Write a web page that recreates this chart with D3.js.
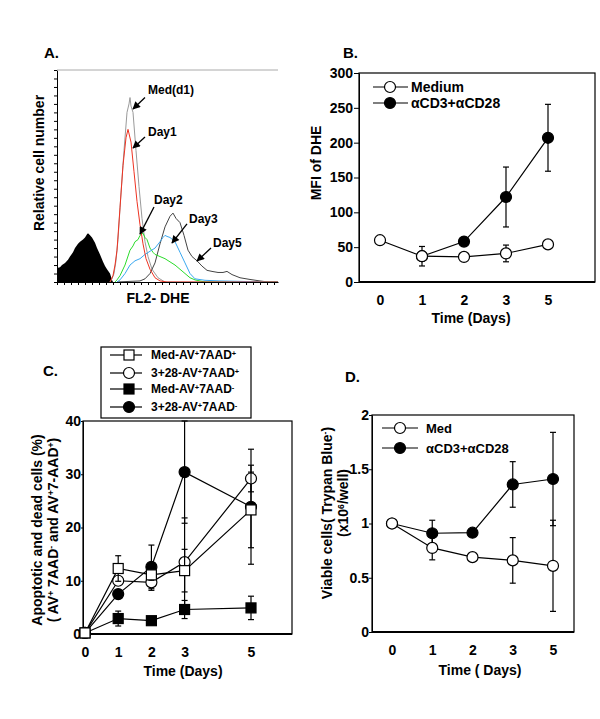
<!DOCTYPE html>
<html>
<head>
<meta charset="utf-8">
<script src="https://cdn.jsdelivr.net/npm/d3@7"></script>
<style>
  body { margin: 0; background: #fff; }
  svg { display: block; font-family: "Liberation Sans", Arial, Helvetica, sans-serif; font-weight: bold; }
  .axis path, .axis line { stroke: #000; }
  .axis text { font-family: "Liberation Sans", Arial, sans-serif; font-weight: bold; fill: #000; }
</style>
</head>
<body>
<div id="fig"></div>
<script>
// ---------- data ----------
// A. FL2-DHE histograms, [channel, relative cell number]
const histUnstained = [[0,6.6],[3,7],[5,8],[8,9],[11,10.5],[13,12],[16,14],[18,16],[21,18],[23,19],[26,20],[28,21],[30,22.5],[31,23],[33,22],[35,21],[38,18.5],[40,16],[43,13],[46,9.5],[48,7.5],[50,6],[53,4],[55,1],[56,0]];
const histMedD1 = [[53,0],[55,1.5],[57,4],[59,10],[61,20],[64,42],[67,62],[70,80],[72,84],[73,87],[74,83],[76,80],[79,62],[82,45],[85,30],[88,19],[91,12],[95,6],[101,2],[108,0],[221,0]];
const histDay1 = [[53,0],[56,3],[58,8],[60,15],[63,35],[66,55],[69,68],[71,72],[74,66],[77,52],[80,38],[83,27],[86,18],[89,11],[93,6],[98,2],[103,0.5],[110,0],[221,0]];
const histDay2 = [[58,0],[60,1],[63,3],[68,8],[73,15],[76,17],[78,19],[81,20],[83,22],[86,23],[88,21],[90,20],[93,16],[96,14],[98,13],[103,12],[108,11],[113,9.5],[118,8],[123,6],[128,4],[133,2],[138,1],[148,0],[221,0]];
const histDay3 = [[60,0],[63,1],[68,4],[73,8],[78,10],[83,11],[88,13],[93,14.5],[98,16],[103,19],[106,21],[108,22],[110,21.5],[113,21],[118,19],[123,14],[128,9],[133,4],[138,1.5],[148,0.8],[163,0.5],[183,0.3],[211,0],[221,0]];
const histDay5 = [[60,0],[73,0.3],[83,0.5],[88,1.5],[93,4],[98,9],[103,18],[108,26],[113,31],[116,32.5],[119,30],[123,28],[127,22],[131,15],[135,12],[140,10],[145,7.5],[150,5.5],[155,5],[161,4.5],[166,4.5],[170,5],[175,3.5],[183,2],[193,1.2],[203,0.5],[211,0],[221,0]];
const histLabels = ['Med(d1)', 'Day1', 'Day2', 'Day3', 'Day5'];
// label anchor, arrow tail, arrow tip (channel, count)
const histNotes = [
  [91, 90.6, 88, 87, 76, 81.6],
  [91, 70.8, 88, 68.4, 76, 63.2],
  [97, 38.7, 97, 35.4, 83, 22.6],
  [132, 29.7, 130, 27.4, 115, 18.4],
  [156, 18.4, 154, 16, 140, 9.9]
];

// B. MFI of DHE
const daysB = ['0', '1', '2', '3', '5'];
const mfiMedium = [60, 37, 36, 41, 54];
const mfiMediumErr = [0, 14, 0, 12, 0];
const mfiCD3 = [null, 37, 58, 122, 207];
const mfiCD3Err = [0, 0, 0, 43, 48];

// C. apoptotic and dead cells (%)
const daysC = [0, 1, 2, 3, 5];
const medDead = [0.2, 12.3, 11.1, 11.9, 23.3];
const medDeadErr = [0, 2.4, 1, 4, 7.1];
const cd3Dead = [0.2, 10.0, 9.7, 13.5, 29.2];
const cd3DeadErr = [0, 0.8, 1.5, 8.3, 2.5];
const medApo = [0.2, 2.9, 2.5, 4.6, 4.9];
const medApoErr = [0, 1.4, 0.3, 1.7, 2.2];
const cd3Apo = [0.2, 7.5, 12.6, 30.4, 23.9];
const cd3ApoErr = [0, 0.8, 4.1, 9.6, 10.8];
const legendC = ['Med-AV{+}7AAD{+}', '3+28-AV{+}7AAD{+}', 'Med-AV{+}7AAD{-}', '3+28-AV{+}7AAD{-}'];

// D. viable cells (x10^6/well)
const daysD = ['0', '1', '2', '3', '5'];
const viableMed = [1.0, 0.775, 0.69, 0.66, 0.61];
const viableMedErr = [0, 0.11, 0, 0.21, 0.42];
const viableCD3 = [1.0, 0.91, 0.915, 1.36, 1.41];
const viableCD3Err = [0, 0.12, 0, 0.21, 0.43];

// ---------- helpers ----------
const svg = d3.select('#fig').append('svg')
  .attr('width', 600).attr('height', 719);
svg.append('rect').attr('width', 600).attr('height', 719).attr('fill', '#fff');

svg.append('defs').append('marker')
  .attr('id', 'arrow')
  .attr('viewBox', '0 0 10 10')
  .attr('refX', 9).attr('refY', 5)
  .attr('markerWidth', 7).attr('markerHeight', 6)
  .attr('orient', 'auto')
  .append('path').attr('d', 'M0,0L10,5L0,10z').attr('fill', '#000');

// text with {+} / {-} superscripts
function richText(sel, str) {
  const parts = str.split(/(\{[+\-6]\})/);
  let up = false;
  parts.forEach(p => {
    if (!p) return;
    const m = p.match(/^\{(.)\}$/);
    if (m) {
      sel.append('tspan').attr('dy', '-0.45em').attr('font-size', '0.62em').text(m[1]);
      up = true;
    } else {
      const t = sel.append('tspan').text(p);
      if (up) { t.attr('dy', '0.28em'); up = false; }
    }
  });
}

function label(g, x, y, str, size, rotate) {
  const t = g.append('text')
    .attr('text-anchor', 'middle')
    .attr('font-size', size)
    .attr('transform', 'translate(' + x + ',' + y + ')' + (rotate ? ' rotate(-90)' : ''));
  richText(t, str);
  return t;
}

function marker(g, shape, filled, x, y) {
  if (shape === 'square') {
    g.append('rect').attr('x', x - 5).attr('y', y - 5).attr('width', 10).attr('height', 10)
      .attr('fill', filled ? '#000' : '#fff').attr('stroke', '#000').attr('stroke-width', 1.2);
  } else {
    g.append('circle').attr('cx', x).attr('cy', y).attr('r', 5.5)
      .attr('fill', filled ? '#000' : '#fff').attr('stroke', '#000').attr('stroke-width', 1.2);
  }
}

// one series: line, error bars, markers
function series(g, xs, ys, vals, errs, shape, filled) {
  const pts = vals.map((v, i) => ({ x: xs(i), v: v, e: errs[i] })).filter(d => d.v != null);
  g.append('path').datum(pts)
    .attr('d', d3.line().x(d => d.x).y(d => ys(d.v)))
    .attr('fill', 'none').attr('stroke', '#000').attr('stroke-width', 1.2);
  pts.filter(d => d.e > 0).forEach(d => {
    g.append('line').attr('x1', d.x).attr('x2', d.x)
      .attr('y1', ys(d.v - d.e)).attr('y2', ys(d.v + d.e))
      .attr('stroke', '#000').attr('stroke-width', 1.2);
    [d.v - d.e, d.v + d.e].forEach(c => {
      g.append('line').attr('x1', d.x - 3).attr('x2', d.x + 3)
        .attr('y1', ys(c)).attr('y2', ys(c))
        .attr('stroke', '#000').attr('stroke-width', 1.2);
    });
  });
  pts.forEach(d => marker(g, shape, filled, d.x, ys(d.v)));
}

// box round the plot, thick base line
function frame(g, x0, x1, y0, y1, thickBase) {
  g.append('rect').attr('x', x0).attr('y', y0).attr('width', x1 - x0).attr('height', y1 - y0)
    .attr('fill', 'none').attr('stroke', '#000').attr('stroke-width', 1.2);
  if (thickBase) {
    g.append('line').attr('x1', x0).attr('x2', x1).attr('y1', y1).attr('y2', y1)
      .attr('stroke', '#000').attr('stroke-width', 2.2);
  }
}

function xAxis(g, scale, y, vals) {
  const ax = d3.axisBottom(scale).tickSize(0).tickPadding(13);
  if (vals) ax.tickValues(vals).tickFormat(d3.format('d'));
  g.append('g').attr('class', 'axis').attr('transform', 'translate(0,' + y + ')')
    .call(ax)
    .call(a => a.select('.domain').remove())
    .call(a => a.selectAll('text').attr('font-size', 14));
}

// ---------- A ----------
const gA = svg.append('g');
const xA = d3.scaleLinear().domain([0, 221]).range([57, 278]);
const yA = d3.scaleLinear().domain([0, 100]).range([282, 70]);
const lineA = d3.line().x(d => xA(d[0])).y(d => yA(d[1]));

gA.append('path').datum(histUnstained)
  .attr('d', d3.area().x(d => xA(d[0])).y0(yA(0)).y1(d => yA(d[1])))
  .attr('fill', '#000');
[[histMedD1, '#9a9a9a'], [histDay5, '#444'], [histDay2, '#2bdc2b'], [histDay3, '#3aa8f0'], [histDay1, '#ee3322']]
  .forEach(([h, c]) => {
    gA.append('path').datum(h).attr('d', lineA)
      .attr('fill', 'none').attr('stroke', c).attr('stroke-width', 1);
  });

gA.append('g').attr('class', 'axis').attr('transform', 'translate(57,0)')
  .call(d3.axisLeft(yA).tickValues(d3.range(0, 101, 4)).tickSize(3).tickSizeOuter(0).tickFormat(''));
gA.append('g').attr('class', 'axis').attr('transform', 'translate(0,282)')
  .call(d3.axisBottom(xA).tickValues(d3.range(0, 222, 7)).tickSize(3).tickSizeOuter(0).tickFormat(''));
gA.append('line').attr('x1', xA(0)).attr('x2', xA(221)).attr('y1', yA(100)).attr('y2', yA(100))
  .attr('stroke', '#aaa');

histNotes.forEach((n, i) => {
  gA.append('text').attr('x', xA(n[0])).attr('y', yA(n[1])).attr('dy', '0.35em')
    .attr('font-size', 12).text(histLabels[i]);
  gA.append('line').attr('x1', xA(n[2])).attr('y1', yA(n[3]))
    .attr('x2', xA(n[4])).attr('y2', yA(n[5]))
    .attr('stroke', '#000').attr('stroke-width', 1.3).attr('marker-end', 'url(#arrow)');
});
label(gA, 158, 303, 'FL2- DHE', 14);
label(gA, 44, 163, 'Relative cell number', 14, true);
gA.append('text').attr('x', 44).attr('y', 58).attr('font-size', 15).text('A.');

// ---------- B ----------
const gB = svg.append('g');
const xB = d3.scalePoint().domain(daysB).range([380, 548]);
const yB = d3.scaleLinear().domain([0, 300]).range([282, 73]);
frame(gB, 359, 595, 73, 282, true);
gB.append('g').attr('class', 'axis').attr('transform', 'translate(359,0)')
  .call(d3.axisLeft(yB).tickValues([0, 50, 100, 150, 200, 250, 300]).tickSize(5).tickPadding(1).tickSizeOuter(0))
  .call(a => a.selectAll('text').attr('font-size', 14));
xAxis(gB, xB, 282);
series(gB, i => xB(daysB[i]), yB, mfiCD3, mfiCD3Err, 'circle', true);
series(gB, i => xB(daysB[i]), yB, mfiMedium, mfiMediumErr, 'circle', false);
[['Medium', false], ['\u03b1CD3+\u03b1CD28', true]].forEach(([t, f], i) => {
  const y = 87 + i * 16;
  gB.append('line').attr('x1', 373).attr('x2', 408).attr('y1', y).attr('y2', y).attr('stroke', '#000').attr('stroke-width', 1.2);
  marker(gB, 'circle', f, 390, y);
  gB.append('text').attr('x', 411).attr('y', y).attr('dy', '0.36em').attr('font-size', 14).text(t);
});
label(gB, 471, 323, 'Time (Days)', 14);
label(gB, 321, 163, 'MFI of DHE', 14, true);
gB.append('text').attr('x', 343).attr('y', 58).attr('font-size', 15).text('B.');

// ---------- C ----------
const gC = svg.append('g');
const xC = d3.scaleLinear().domain([0, 5]).range([85, 251]);
const yC = d3.scaleLinear().domain([0, 40]).range([634, 421]);
frame(gC, 83, 292, 421, 634, true);
gC.append('g').attr('class', 'axis').attr('transform', 'translate(83,0)')
  .call(d3.axisLeft(yC).tickValues([0, 10, 20, 30, 40]).tickSize(2).tickPadding(0).tickSizeOuter(0))
  .call(a => a.selectAll('text').attr('font-size', 14));
xAxis(gC, xC, 634, daysC);
const xCi = i => xC(daysC[i]);
series(gC, xCi, yC, medApo, medApoErr, 'square', true);
series(gC, xCi, yC, cd3Apo, cd3ApoErr, 'circle', true);
series(gC, xCi, yC, cd3Dead, cd3DeadErr, 'circle', false);
series(gC, xCi, yC, medDead, medDeadErr, 'square', false);

frame(gC, 101, 251, 347, 418);
const legShapes = [['square', false], ['circle', false], ['square', true], ['circle', true]];
[355, 373, 389, 407].forEach((y, i) => {
  gC.append('line').attr('x1', 110).attr('x2', 142).attr('y1', y).attr('y2', y).attr('stroke', '#000').attr('stroke-width', 1.2);
  marker(gC, legShapes[i][0], legShapes[i][1], 129, y);
  const t = gC.append('text').attr('x', 151).attr('y', y).attr('dy', '0.36em').attr('font-size', 12);
  richText(t, legendC[i]);
});
label(gC, 183, 676, 'Time (Days)', 14);
label(gC, 42, 530, 'Apoptotic and dead cells (%)', 14, true);
label(gC, 58, 530, '( AV{+} 7AAD{-} and AV{+}7-AAD{+})', 14, true);
gC.append('text').attr('x', 43).attr('y', 376).attr('font-size', 15).text('C.');

// ---------- D ----------
const gD = svg.append('g');
const xD = d3.scalePoint().domain(daysD).range([392, 553]);
const yD = d3.scaleLinear().domain([0, 2]).range([632, 415]);
frame(gD, 372, 574, 415, 632, true);
gD.append('g').attr('class', 'axis').attr('transform', 'translate(372,0)')
  .call(d3.axisLeft(yD).tickValues([0, 0.5, 1, 1.5, 2]).tickFormat(d3.format('')).tickSize(3).tickPadding(0).tickSizeOuter(0))
  .call(a => a.selectAll('text').attr('font-size', 14));
xAxis(gD, xD, 632);
series(gD, i => xD(daysD[i]), yD, viableCD3, viableCD3Err, 'circle', true);
series(gD, i => xD(daysD[i]), yD, viableMed, viableMedErr, 'circle', false);
[['Med', false], ['\u03b1CD3+\u03b1CD28', true]].forEach(([t, f], i) => {
  const y = 428 + i * 20;
  gD.append('line').attr('x1', 382).attr('x2', 418).attr('y1', y).attr('y2', y).attr('stroke', '#000').attr('stroke-width', 1.2);
  marker(gD, 'circle', f, 400, y);
  gD.append('text').attr('x', 426).attr('y', y).attr('dy', '0.36em').attr('font-size', 13).text(t);
});
label(gD, 480, 675, 'Time ( Days)', 14);
label(gD, 332, 513, 'Viable cells( Trypan Blue{-})', 14, true);
label(gD, 348, 503, '(x10{6}/well)', 14, true);
gD.append('text').attr('x', 345).attr('y', 382).attr('font-size', 15).text('D.');
</script>
</body>
</html>
